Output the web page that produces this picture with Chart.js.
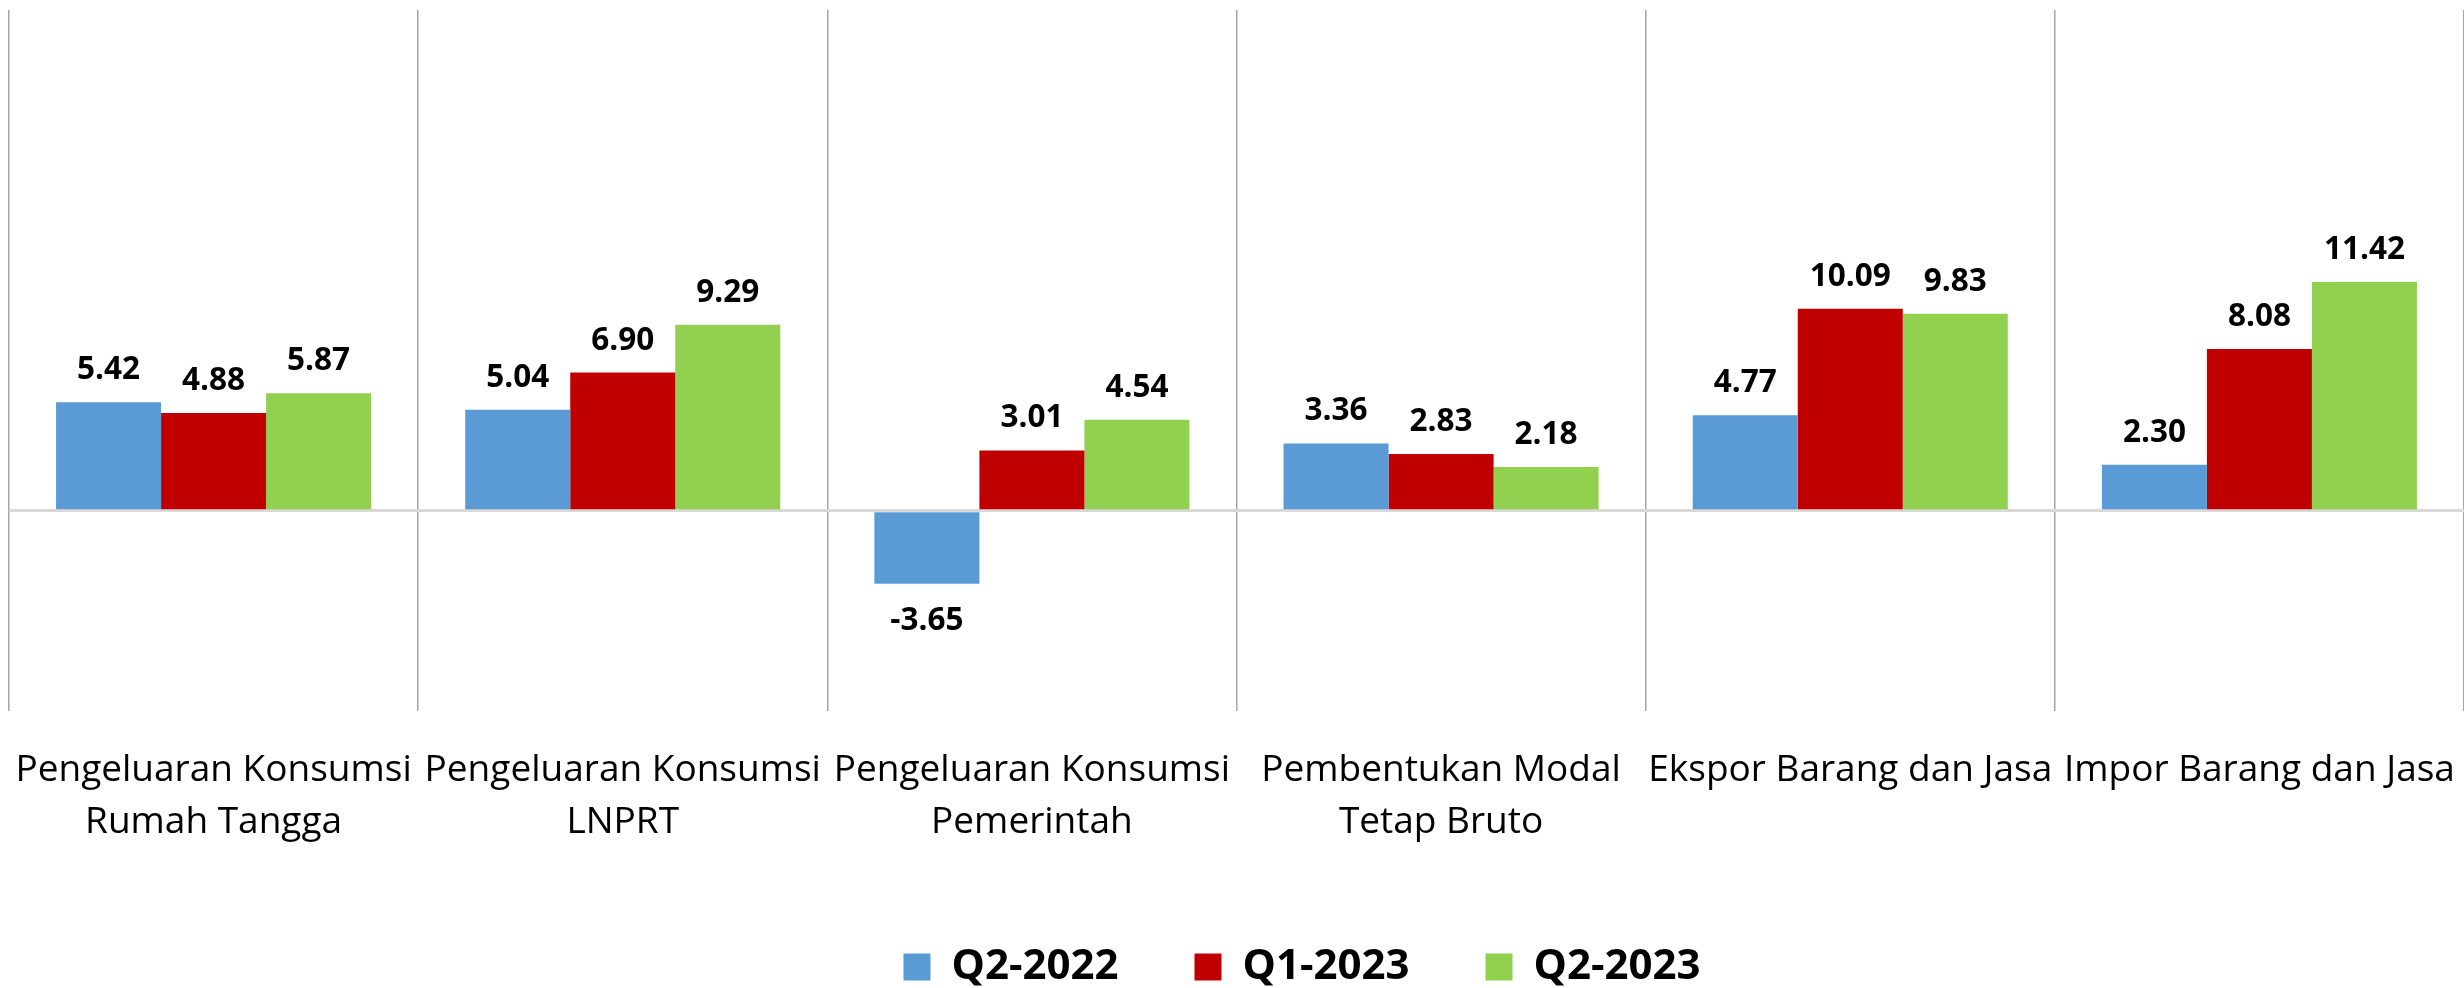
<!DOCTYPE html>
<html>
<head>
<meta charset="utf-8">
<script src="https://cdn.jsdelivr.net/npm/chart.js@4"></script>
<style>
  body { margin: 0; background: #fff; }
  #wrap { width: 2464px; height: 988px; }
</style>
</head>
<body>
<div id="wrap"><canvas id="chart-bar" width="2464" height="988"></canvas></div>
<script>
const categories = [
  ["Pengeluaran Konsumsi", "Rumah Tangga"],
  ["Pengeluaran Konsumsi", "LNPRT"],
  ["Pengeluaran Konsumsi", "Pemerintah"],
  ["Pembentukan Modal", "Tetap Bruto"],
  "Ekspor Barang dan Jasa",
  "Impor Barang dan Jasa",
];
const seriesNames = ["Q2-2022", "Q1-2023", "Q2-2023"];
const q2_2022 = [5.42, 5.04, -3.65, 3.36, 4.77, 2.30];
const q1_2023 = [4.88, 6.90, 3.01, 2.83, 10.09, 8.08];
const q2_2023 = [5.87, 9.29, 4.54, 2.18, 9.83, 11.42];
const colors = ["#5B9BD5", "#C00000", "#92D050"];

const FONT = "'Open Sans', 'Noto Sans', sans-serif";

// value labels above (or under, when negative) each bar
const valueLabels = {
  id: "valueLabels",
  afterDatasetsDraw(chart) {
    const ctx = chart.ctx;
    ctx.save();
    ctx.font = "bold 31.5px " + FONT;
    ctx.fillStyle = "#000";
    ctx.textAlign = "center";
    ctx.textBaseline = "alphabetic";
    chart.data.datasets.forEach((ds, i) => {
      chart.getDatasetMeta(i).data.forEach((bar, j) => {
        const v = ds.data[j];
        const y = v >= 0 ? bar.y - 23 : bar.y + 46;
        ctx.fillText(v.toFixed(2), bar.x, y);
      });
    });
    ctx.restore();
  },
};

const ctx = document.getElementById("chart-bar");
const chart = new Chart(ctx, {
  type: "bar",
  data: {
    labels: categories,
    datasets: [
      { label: seriesNames[0], data: q2_2022, backgroundColor: colors[0] },
      { label: seriesNames[1], data: q1_2023, backgroundColor: colors[1] },
      { label: seriesNames[2], data: q2_2023, backgroundColor: colors[2] },
    ],
  },
  options: {
    responsive: false,
    animation: false,
    layout: { padding: { top: 10, left: 9, right: -7, bottom: 0 } },
    datasets: {
      bar: { categoryPercentage: 0.77, barPercentage: 1.0, borderWidth: 0 },
    },
    plugins: {
      tooltip: { enabled: false },
      legend: {
        position: "bottom",
        maxHeight: 118,
        labels: {
          boxWidth: 27,
          boxHeight: 27,
          padding: 76,
          color: "#000",
          font: { family: FONT, size: 42, weight: "bold" },
          generateLabels(chart) {
            const items = Chart.defaults.plugins.legend.labels.generateLabels(chart);
            // blank entry to push the legend a bit right, like the original
            items.unshift({
              text: "",
              fillStyle: "rgba(0,0,0,0)",
              strokeStyle: "rgba(0,0,0,0)",
              lineWidth: 0,
              hidden: false,
              datasetIndex: -1,
            });
            return items;
          },
        },
      },
    },
    scales: {
      x: {
        grid: {
          display: true,
          drawTicks: false,
          color: "#a6a6a6",
          lineWidth: 1.5,
        },
        border: { display: false },
        ticks: {
          autoSkip: false,
          maxRotation: 0,
          padding: 33,
          color: "#000",
          font: { family: FONT, size: 37, lineHeight: 1.405 },
        },
        afterFit(scale) {
          scale.height -= 11;
          scale.paddingLeft = 0;
          scale.paddingRight = 0;
        },
      },
      y: {
        min: -10,
        max: 25,
        ticks: { display: false, stepSize: 5 },
        border: { display: false },
        grid: {
          drawTicks: false,
          color: (c) => (c.tick && c.tick.value === 0 ? "#d9d9d9" : "rgba(0,0,0,0)"),
          lineWidth: 3,
        },
        afterFit(scale) {
          scale.width = 0;
        },
      },
    },
  },
  plugins: [valueLabels],
});
</script>
</body>
</html>
